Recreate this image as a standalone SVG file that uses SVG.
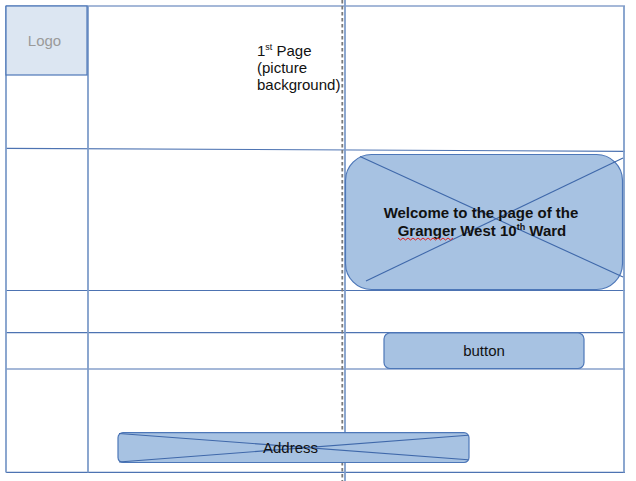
<svg xmlns="http://www.w3.org/2000/svg" width="636" height="481" viewBox="0 0 636 481">
<style>
  .h { stroke: #4d73b2; stroke-width: 1.2; fill: none; }
  .v { stroke: #7f9dca; stroke-width: 1.8; fill: none; }
  .box { fill: #a7c2e2; stroke: #4d77b8; stroke-width: 1.2; }
  .x { stroke: #3f68aa; stroke-width: 1.1; fill: none; }
  .t { font-family: "Liberation Sans", Arial, sans-serif; font-size: 15px; fill: #111; }
  .b { font-weight: bold; }
</style>
<rect width="636" height="481" fill="#ffffff"/>
<g id="grid">
  <line class="h" x1="6" y1="6" x2="625" y2="6"/>
  <line class="h" x1="6" y1="148.3" x2="625" y2="151.3"/>
  <line class="h" x1="6" y1="290.5" x2="625" y2="290.5"/>
  <line class="h" x1="6" y1="332.7" x2="625" y2="332.7"/>
  <line class="h" x1="6" y1="369" x2="625" y2="369"/>
  <line class="h" x1="6" y1="472.3" x2="625" y2="472.3"/>
  <line class="v" x1="6" y1="6" x2="6" y2="472.5"/>
  <line class="v" x1="88" y1="6" x2="88" y2="472.5"/>
  <line class="v" x1="345" y1="0" x2="345" y2="481"/>
  <line class="v" x1="624" y1="6" x2="624" y2="472.5"/>
  <line x1="342.3" y1="0" x2="342.3" y2="481" stroke="#7a7a7a" stroke-width="1.8" stroke-dasharray="3.5,2.5"/>
</g>
<g id="logo">
  <rect x="6" y="6" width="81" height="69" fill="#dce6f2" stroke="#4d77b8" stroke-width="1.2"/>
  <text class="t" x="44.5" y="46" text-anchor="middle" fill="#9a9a9a" style="fill:#9a9a9a">Logo</text>
</g>
<g id="page-label">
  <text class="t" x="257" y="56">1<tspan font-size="9" dy="-6">st</tspan><tspan dy="6"> Page</tspan></text>
  <text class="t" x="257" y="73">(picture</text>
  <text class="t" x="257" y="90">background)</text>
</g>
<g id="welcome">
  <rect class="box" x="345.5" y="154.5" width="277" height="135" rx="26" ry="26"/>
  <line class="x" x1="360" y1="156.5" x2="623" y2="277"/>
  <line class="x" x1="366" y1="281" x2="623" y2="158"/>
  <text class="t b" x="481" y="218" text-anchor="middle">Welcome to the page of the</text>
  <text class="t b" x="482" y="235.5" text-anchor="middle">Granger West 10<tspan font-size="9" dy="-6">th</tspan><tspan dy="6"> Ward</tspan></text>
  <path d="M398,238 l2.5,2 l2.5,-2 l2.5,2 l2.5,-2 l2.5,2 l2.5,-2 l2.5,2 l2.5,-2 l2.5,2 l2.5,-2 l2.5,2 l2.5,-2 l2.5,2 l2.5,-2 l2.5,2 l2.5,-2 l2.5,2 l2.5,-2 l2.5,2 l2.5,-2 l2.5,2 l2.5,-2" fill="none" stroke="#e02020" stroke-width="1"/>
</g>
<g id="button">
  <rect class="box" x="384" y="333" width="200" height="35.5" rx="6" ry="6"/>
  <text class="t" x="484" y="356" text-anchor="middle">button</text>
</g>
<g id="address">
  <rect class="box" x="118" y="432.7" width="351" height="29.8" rx="5" ry="5"/>
  <line class="x" x1="119" y1="433.5" x2="468" y2="459.7"/>
  <line class="x" x1="119" y1="462" x2="468" y2="435.3"/>
  <text class="t" x="290.5" y="452.5" text-anchor="middle">Address</text>
</g>
</svg>
